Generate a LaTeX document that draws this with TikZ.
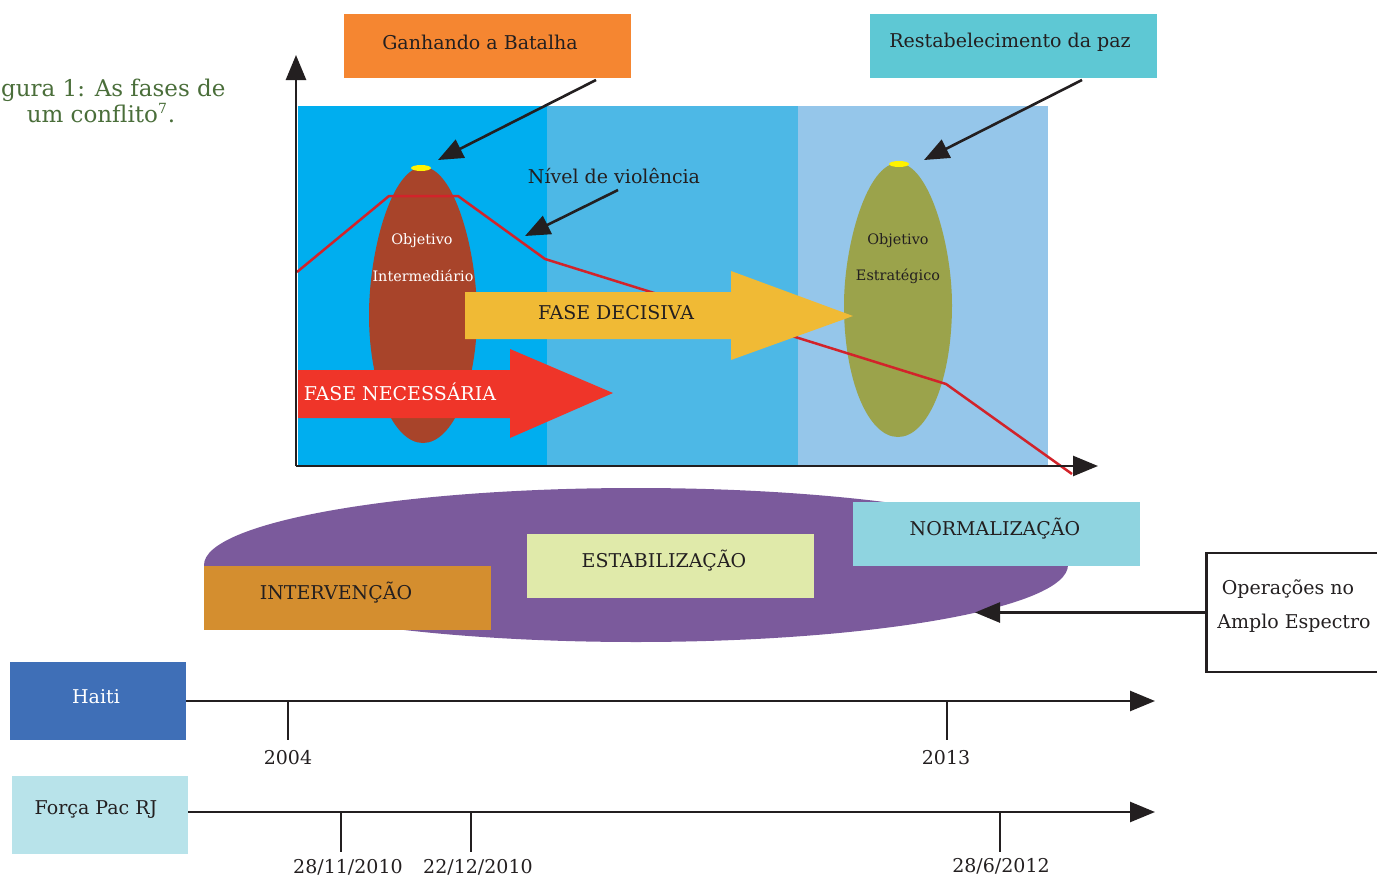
\documentclass[tikz,border=0pt]{standalone}
\usepackage{fontspec}
\setmainfont{DejaVu Serif}
\usetikzlibrary{arrows.meta}
\definecolor{bgA}{HTML}{00AEEF}
\definecolor{bgB}{HTML}{4DB8E6}
\definecolor{bgC}{HTML}{95C6EA}
\definecolor{brownE}{HTML}{A8442A}
\definecolor{oliveE}{HTML}{9BA34B}
\definecolor{vred}{HTML}{D2232A}
\definecolor{yarrow}{HTML}{F0BA35}
\definecolor{rarrow}{HTML}{EF3529}
\definecolor{orangeB}{HTML}{F58631}
\definecolor{tealB}{HTML}{5EC8D4}
\definecolor{purpleE}{HTML}{7B5A9C}
\definecolor{intB}{HTML}{D48E2F}
\definecolor{estB}{HTML}{E0EAAA}
\definecolor{norB}{HTML}{8FD4E0}
\definecolor{haitiB}{HTML}{3F6FB7}
\definecolor{forcaB}{HTML}{B8E3EA}
\definecolor{txt}{HTML}{231F20}
\definecolor{capgreen}{HTML}{4A6E3A}
\begin{document}
\begin{tikzpicture}[x=0.5pt,y=-0.5pt,
  lbl/.style={font=\fontsize{9.5}{11}\selectfont, text=txt, inner sep=0},
  small/.style={font=\fontsize{7.2}{8}\selectfont, inner sep=0},
  box/.style={minimum width=143.5pt, minimum height=32pt, inner sep=0},
  tlbox/.style={minimum width=88pt, minimum height=39pt, inner sep=0},
  blk/.style={draw=txt, line width=1.3pt},
  tip/.style={-{Triangle[length=12.5pt,width=10pt]}},
  tick/.style={draw=txt, line width=1.3pt}
]
\useasboundingbox (0,0) rectangle (1377,878);
% caption
\node[font=\fontsize{11.5}{13}\selectfont, text=capgreen, inner sep=0, anchor=east] (cap1) at (226,90) {gura 1: As fases de};
\node[font=\fontsize{11.5}{13}\selectfont, text=capgreen, inner sep=0] (cap2) at (101,113) {um conflito\textsuperscript{\scriptsize 7}.};
% backgrounds
\fill[bgA] (298,106) rectangle (547,465);
\fill[bgB] (547,106) rectangle (798,465);
\fill[bgC] (798,106) rectangle (1048,465);
% ellipses
\fill[brownE] (423,167) .. controls (392,167) and (369,250) .. (369,315)
  .. controls (369,385) and (393,443) .. (423,443)
  .. controls (453,443) and (477,385) .. (477,315)
  .. controls (477,250) and (454,167) .. (423,167) -- cycle;
\fill[oliveE] (898,163) .. controls (867,163) and (844,245) .. (844,305)
  .. controls (844,380) and (868,437) .. (898,437)
  .. controls (928,437) and (952,380) .. (952,305)
  .. controls (952,245) and (929,163) .. (898,163) -- cycle;
\fill[yellow] (421,168) ellipse [x radius=10, y radius=3];
\fill[yellow] (899,164) ellipse [x radius=10, y radius=3];
\node[small, text=white] (oi1) at (422,241) {Objetivo};
\node[small, text=white] (oi2) at (423,276) {Intermediário};
\node[small, text=txt] (oe1) at (898,241) {Objetivo};
\node[small, text=txt] (oe2) at (898,276) {Estratégico};
% violence line
\draw[vred, line width=1.25pt] (297,272) -- (389,196) -- (458,196) -- (545,259) -- (946,384) -- (1072,474);
% phase arrows
\fill[yarrow] (465,292) -- (731,292) -- (731,271) -- (853,316) -- (731,360) -- (731,339) -- (465,339) -- cycle;
\node[lbl] (fdec) at (616,313) {FASE DECISIVA};
\fill[rarrow] (298,370) -- (510,370) -- (510,349) -- (613,393) -- (510,438) -- (510,418) -- (298,418) -- cycle;
\node[lbl, text=white] (fnec) at (400,392) {FASE NECESSÁRIA};
% axes
\coordinate (orig) at (296,466);
\coordinate (ytip) at (296,55);
\coordinate (xtip) at (1098,466);
\draw[blk, tip] (orig) -- (ytip);
\draw[blk, tip] (orig) -- (xtip);
% top boxes and arrows
\node[box, fill=orangeB] (gan) at (487.5,46) {};
\node[lbl] (gant) at (480,42) {Ganhando a Batalha};
\node[box, fill=tealB] (rest) at (1013.5,46) {};
\node[lbl] (restt) at (1010,42) {Restabelecimento da paz};
\coordinate (gs) at (596,80);
\coordinate (ge) at (438,160);
\coordinate (rs) at (1082,80);
\coordinate (re) at (924,160);
\draw[blk, tip] (gs) -- (ge);
\draw[blk, tip] (rs) -- (re);
\node[lbl] (niv) at (614,176) {Nível de violência};
\coordinate (ns) at (618,190);
\coordinate (ne) at (525,236);
\draw[blk, tip] (ns) -- (ne);
% purple ellipse and phase boxes
\fill[purpleE] (636,565) ellipse [x radius=432, y radius=77];
\node[box, fill=intB] (int) at (347.5,597.5) {};
\node[lbl] (intt) at (336,593) {INTERVENÇÃO};
\node[box, fill=estB] (est) at (670.5,565.5) {};
\node[lbl] (estt) at (664,561) {ESTABILIZAÇÃO};
\node[box, fill=norB] (nor) at (996.5,533.5) {};
\node[lbl] (nort) at (995,529) {NORMALIZAÇÃO};
% Operations box
\node[draw=txt, line width=1.3pt, minimum width=92.5pt, minimum height=59.5pt, inner sep=0, anchor=west] (ops) at (1205,612.5) {};
\node[lbl] (ops1) at (1288,589) {Operações no};
\node[lbl] (ops2) at (1294,623) {Amplo Espectro};
\coordinate (opsend) at (975,612.5);
\draw[blk, tip] (ops.west) -- (opsend);
% timelines
\node[tlbox, fill=haitiB] (haiti) at (98,701) {};
\node[lbl, text=white] (haitit) at (96,697) {Haiti};
\node[tlbox, fill=forcaB] (forca) at (100,815) {};
\node[lbl] (forcat) at (96,810) {Força Pac RJ};
\coordinate (htip) at (1155,701);
\coordinate (ftip) at (1155,812);
\draw[blk, tip] (haiti.east) -- (htip);
\draw[blk, tip] (forca.east |- ftip) -- (ftip);
\draw[tick] (288,701) -- (288,740);
\draw[tick] (947,701) -- (947,740);
\node[lbl] (y2004) at (288,758) {2004};
\node[lbl] (y2013) at (946,758) {2013};
\draw[tick] (341,812) -- (341,852);
\draw[tick] (471,812) -- (471,852);
\draw[tick] (1000,812) -- (1000,852);
\node[lbl] (d1) at (348,867) {28/11/2010};
\node[lbl] (d2) at (478,867) {22/12/2010};
\node[lbl] (d3) at (1001,866) {28/6/2012};
\end{tikzpicture}
\end{document}
